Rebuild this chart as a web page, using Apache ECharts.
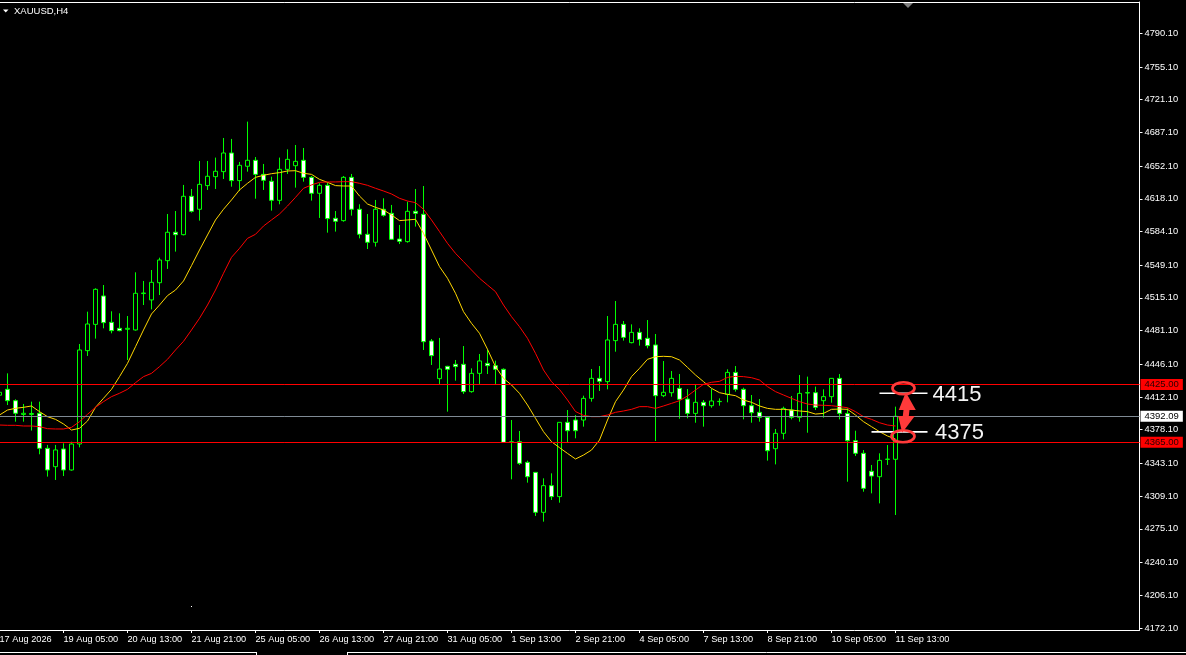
<!DOCTYPE html>
<html><head><meta charset="utf-8">
<script src="https://cdn.jsdelivr.net/npm/echarts@6/dist/echarts.min.js"></script>
<style>html,body{margin:0;padding:0;background:#000;}#c{width:1186px;height:655px;}</style>
</head><body><div id="c"></div>
<script>
// ---- data (XAUUSD H4) ----
const symbolTitle = 'XAUUSD,H4';
const opens = [4414.0,4420.1,4408.3,4394.0,4394.0,4395.2,4358.8,4339.7,4358.1,4336.3,
4363.3,4460.3,4487.6,4517.1,4489.7,4483.5,4482.5,4481.8,4519.6,4513.0,
4530.9,4553.8,4583.3,4580.8,4620.7,4607.2,4631.8,4641.1,4646.3,4665.7,
4637.0,4651.9,4658.1,4643.5,4636.3,4616.5,4648.7,4652.5,4658.1,4640.4,
4623.8,4632.1,4597.8,4595.4,4640.4,4607.2,4581.2,4572.9,4607.2,4603.0,
4576.3,4573.6,4605.1,4602.0,4470.3,4431.2,4444.0,4446.1,4446.1,4417.7,
4436.7,4447.1,4444.7,4440.9,4365.5,4365.7,4344.2,4333.8,4292.3,4320.0,
4308.6,4385.8,4388.2,4388.2,4410.7,4431.5,4428.1,4470.7,4487.6,4468.6,
4479.3,4473.1,4466.2,4413.5,4416.6,4421.1,4410.0,4395.1,4406.6,4403.1,
4407.3,4414.9,4437.7,4420.1,4403.1,4396.2,4391.0,4358.4,4374.4,4398.6,
4391.0,4416.6,4416.6,4408.3,4412.5,4431.5,4395.1,4366.7,4353.6,4334.9,
4329.3,4347.3,4347.4];
const highs = [4420.0,4436.7,4409.7,4404.9,4407.3,4407.3,4362.3,4362.3,4364.0,4365.7,
4467.2,4500.8,4525.1,4528.5,4501.2,4499.1,4496.3,4541.7,4532.7,4544.1,
4556.9,4602.3,4605.4,4632.5,4628.3,4657.4,4657.4,4660.9,4681.3,4680.3,
4656.4,4698.3,4661.5,4654.3,4641.1,4660.9,4669.5,4674.0,4670.9,4641.8,
4634.2,4634.9,4605.4,4641.8,4643.9,4612.4,4602.3,4616.9,4618.6,4611.7,
4590.9,4615.1,4628.3,4631.4,4472.4,4473.5,4444.5,4450.6,4465.1,4441.9,
4456.8,4461.7,4449.9,4441.9,4388.2,4376.8,4346.0,4334.0,4327.6,4332.8,
4386.0,4398.6,4393.4,4413.5,4441.2,4444.3,4496.3,4511.9,4491.1,4487.6,
4483.5,4492.1,4477.6,4449.5,4439.1,4436.0,4420.4,4424.6,4409.0,4420.4,
4410.7,4440.9,4444.3,4421.8,4414.2,4410.0,4391.5,4378.9,4402.1,4413.2,
4435.0,4433.3,4422.9,4420.1,4431.8,4436.0,4400.3,4377.1,4357.0,4341.5,
4353.6,4362.2,4402.1];
const lows = [4410.0,4403.8,4386.5,4386.5,4377.2,4352.6,4329.4,4325.9,4330.0,4335.6,
4359.8,4454.8,4472.8,4483.5,4478.3,4480.4,4450.6,4481.1,4507.7,4503.2,
4518.1,4545.2,4563.2,4580.1,4603.7,4595.4,4627.3,4628.3,4638.7,4630.7,
4626.2,4646.3,4618.2,4627.3,4605.8,4612.4,4643.9,4629.7,4635.9,4616.2,
4598.2,4582.9,4584.0,4594.3,4600.6,4577.0,4565.9,4568.4,4599.5,4575.3,
4571.1,4572.5,4589.2,4461.0,4445.4,4425.7,4396.9,4429.1,4415.3,4416.6,
4425.7,4436.0,4425.7,4364.5,4326.6,4341.5,4323.1,4288.5,4282.6,4305.1,
4302.3,4364.7,4369.2,4381.3,4407.3,4418.4,4420.1,4459.2,4470.7,4467.9,
4465.5,4462.7,4366.4,4412.0,4412.5,4389.6,4390.0,4385.4,4381.3,4401.0,
4403.1,4406.6,4417.7,4388.9,4385.4,4386.5,4346.0,4342.1,4368.1,4388.9,
4386.5,4375.0,4398.6,4390.6,4406.2,4388.9,4324.1,4350.8,4313.7,4312.0,
4301.6,4341.5,4289.5];
const closes = [4417.0,4408.3,4395.2,4395.2,4395.0,4358.8,4336.3,4357.1,4336.3,4363.3,
4461.0,4488.0,4524.0,4489.4,4481.1,4481.1,4483.5,4519.9,4520.2,4531.3,
4554.5,4583.3,4580.8,4620.7,4605.1,4633.1,4641.5,4646.7,4665.7,4637.0,
4652.9,4658.1,4643.5,4637.3,4616.5,4648.7,4659.1,4657.0,4640.4,4623.8,
4632.1,4597.5,4594.7,4640.4,4607.2,4581.2,4572.9,4607.2,4600.9,4576.0,
4573.9,4605.1,4603.0,4469.6,4455.1,4441.2,4440.9,4443.7,4417.7,4436.7,
4449.6,4444.7,4440.9,4365.0,4365.0,4343.2,4329.3,4292.3,4320.0,4308.6,
4385.8,4377.1,4377.1,4410.7,4431.5,4428.4,4471.4,4487.6,4474.1,4479.3,
4472.0,4465.5,4413.5,4417.0,4431.5,4409.7,4395.1,4406.6,4403.1,4408.0,
4407.6,4437.7,4420.1,4403.1,4395.8,4391.0,4356.3,4374.4,4400.3,4391.0,
4415.9,4416.3,4401.4,4412.5,4431.5,4395.1,4366.7,4353.6,4317.2,4330.0,
4346.3,4347.6,4392.1];
const maFast = [4393.4,4398.6,4400.4,4401.4,4402.8,4396.9,4391.7,4388.9,4384.1,4377.8,
4379.6,4387.2,4401.4,4410.8,4420.1,4433.3,4447.1,4464.4,4481.8,4498.4,
4507.7,4517.5,4523.3,4532.7,4548.6,4564.9,4580.5,4596.1,4607.2,4616.9,
4627.3,4634.2,4640.4,4642.5,4644.2,4645.3,4647.0,4647.3,4644.6,4643.5,
4638.3,4635.2,4631.8,4631.4,4631.4,4621.0,4612.7,4609.2,4606.5,4601.3,
4595.4,4596.1,4596.8,4582.2,4564.9,4547.6,4535.5,4519.9,4500.8,4488.7,
4478.3,4461.7,4443.7,4431.5,4424.6,4415.9,4403.8,4390.0,4376.1,4365.7,
4359.5,4353.5,4347.7,4351.8,4357.0,4367.4,4388.2,4407.3,4419.4,4433.3,
4441.9,4451.3,4454.0,4454.4,4454.0,4450.6,4442.9,4435.0,4428.1,4421.1,
4416.6,4414.9,4413.5,4409.0,4406.6,4402.8,4400.3,4399.3,4399.3,4398.6,
4397.6,4396.9,4394.4,4395.1,4399.3,4399.6,4399.3,4393.4,4386.5,4381.3,
4376.1,4371.6,4368.5];
const maSlow = [4383.0,4382.7,4382.7,4382.0,4382.0,4381.3,4379.2,4378.9,4378.9,4380.6,
4386.5,4394.1,4401.4,4407.3,4412.5,4416.0,4420.1,4427.0,4433.3,4436.7,
4443.7,4451.3,4461.0,4470.0,4481.8,4493.9,4507.7,4523.3,4540.7,4557.3,
4566.6,4577.0,4581.2,4589.8,4596.1,4602.3,4610.6,4619.6,4629.0,4632.5,
4635.2,4635.6,4635.6,4635.9,4635.9,4634.2,4632.1,4629.0,4626.2,4623.1,
4618.6,4615.8,4614.1,4607.2,4596.1,4584.0,4571.8,4561.4,4552.8,4544.1,
4535.5,4528.5,4521.6,4507.7,4495.6,4485.2,4473.1,4457.5,4440.2,4428.0,
4420.0,4409.0,4397.0,4393.0,4391.7,4391.7,4393.4,4396.2,4397.6,4399.3,
4402.1,4402.1,4400.3,4402.8,4405.5,4408.3,4413.2,4419.4,4425.3,4427.4,
4428.4,4432.5,4433.6,4433.3,4432.2,4429.8,4422.9,4417.7,4414.2,4410.7,
4407.3,4404.8,4403.8,4403.5,4403.1,4402.1,4401.0,4396.9,4391.7,4388.9,
4385.4,4383.0,4382.0];
const yTicks = [4790.1,4755.1,4721.1,4687.1,4652.1,4618.1,4584.1,4549.1,4515.1,4481.1,
4446.1,4412.1,4378.1,4343.1,4309.1,4275.1,4240.1,4206.1,4172.1];
const xTickLabels = ['17 Aug 2026','19 Aug 05:00','20 Aug 13:00','21 Aug 21:00','25 Aug 05:00',
'26 Aug 13:00','27 Aug 21:00','31 Aug 05:00','1 Sep 13:00','2 Sep 21:00','4 Sep 05:00',
'7 Sep 13:00','8 Sep 21:00','10 Sep 05:00','11 Sep 13:00'];
const barsPerTick = 8;
const redLevels = [4425.00, 4365.00];
const bidPrice = 4392.09;
const annotLevels = [4415, 4375];
const rightShiftBars = 30;

// ---- build ----
const nBars = closes.length;
const categories = [];
for (let i = 0; i < nBars + rightShiftBars; i++) categories.push(String(i));
const labelAt = {};
xTickLabels.forEach((t, k) => { labelAt[k * barsPerTick] = t; });
const ohlc = closes.map((c, i) => [opens[i], c, lows[i], highs[i]]);

const FONT = 'Liberation Sans';
const chart = echarts.init(document.getElementById('c'), null, {renderer: 'canvas'});
const markLabel = (bg, fg) => ({
  show: true, position: 'end', distance: 1,
  formatter: p => Number(p.value).toFixed(2),
  backgroundColor: bg, color: fg, fontFamily: FONT, fontSize: 9.5,
  lineHeight: 10, padding: [1, 4, 0, 4]
});
chart.setOption({
  backgroundColor: '#000',
  animation: false,
  grid: {left: -4.5, right: 46.5, top: 2, bottom: 25, containLabel: false, outerBoundsMode: 'none'},
  xAxis: {
    type: 'category', data: categories, boundaryGap: true,
    axisLine: {show: true, onZero: false, lineStyle: {color: '#fff', width: 1}},
    axisTick: {show: true, alignWithLabel: true, length: 3,
      interval: idx => idx > 0 && labelAt[idx] !== undefined,
      lineStyle: {color: '#fff'}},
    axisLabel: {show: true, interval: idx => labelAt[idx] !== undefined,
      formatter: (v, idx) => labelAt[idx] || '', color: '#fff',
      fontFamily: FONT, fontSize: 9.2, align: 'left', margin: 5},
    splitLine: {show: false}
  },
  yAxis: {
    type: 'value', position: 'right', min: 4170.0, max: 4822.6,
    axisLine: {show: true, onZero: false, lineStyle: {color: '#fff'}},
    axisTick: {show: true, length: 3, customValues: yTicks, lineStyle: {color: '#fff'}},
    axisLabel: {show: true, customValues: yTicks, formatter: v => v.toFixed(2),
      color: '#fff', fontFamily: FONT, fontSize: 9.3, margin: 5},
    splitLine: {show: false}
  },
  series: [
    {type: 'candlestick', data: ohlc, barWidth: 4, z: 2,
     itemStyle: {color: '#000', color0: '#fff', borderColor: '#00ff00',
       borderColor0: '#00ff00', borderColorDoji: '#00ff00', borderWidth: 1}},
    {type: 'line', data: maFast, symbol: 'none', z: 3, silent: true,
     lineStyle: {color: '#ffd700', width: 1}},
    {type: 'line', data: maSlow, symbol: 'none', z: 4, silent: true,
     lineStyle: {color: '#ff0000', width: 1},
     markLine: {silent: true, symbol: ['none', 'none'], animation: false,
       data: [
         {yAxis: redLevels[0], lineStyle: {color: '#ff0000', type: 'solid', width: 1}, label: markLabel('#ff0000', '#2a0000')},
         {yAxis: bidPrice, lineStyle: {color: '#7f8a94', type: 'solid', width: 1}, label: markLabel('#ffffff', '#000000')},
         {yAxis: redLevels[1], lineStyle: {color: '#ff0000', type: 'solid', width: 1}, label: markLabel('#ff0000', '#2a0000')}
       ]}}
  ]
});

// ---- annotations anchored to data coordinates ----
const px = (i, v) => chart.convertToPixel({gridIndex: 0}, [i, v]);
const up = px(110, annotLevels[0]), upEnd = px(116, annotLevels[0]);
const lo = px(109, annotLevels[1]), loEnd = px(116, annotLevels[1]);
const ellX = px(112.5, annotLevels[0])[0];
const arrowAnchor = [px(112.84, annotLevels[0])[0], (up[1] + lo[1]) / 2 - 1.5];
const arrowShape = [[2.3,-19.7],[12.3,-2],[6,-2],[5.3,4],[11.3,4],[-1.3,20.7],[-5.3,4],[-0.7,4],[0,-2],[-4.7,-2]];
const ANN_RED = '#ff3a3a';
chart.setOption({graphic: [
  // title
  {type: 'polygon', shape: {points: [[3, 9.5], [8.5, 9.5], [5.75, 12.5]]}, style: {fill: '#fff'}, silent: true},
  {type: 'text', x: 14, y: 11, style: {text: symbolTitle, fill: '#fff', font: '9.5px ' + FONT, textVerticalAlign: 'middle'}, silent: true},
  // frame top + shift marker
  {type: 'line', shape: {x1: 0, y1: 2.5, x2: 1139.5, y2: 2.5}, style: {stroke: '#fff', lineWidth: 1}, silent: true},
  {type: 'polygon', shape: {points: [[903, 3], [913, 3], [908, 8]]}, style: {fill: '#7f7f7f'}, silent: true},
  // bottom tab strip
  {type: 'line', shape: {x1: 0, y1: 652.5, x2: 257, y2: 652.5}, style: {stroke: '#fff', lineWidth: 1}, silent: true},
  {type: 'line', shape: {x1: 256.5, y1: 652.5, x2: 256.5, y2: 655}, style: {stroke: '#fff', lineWidth: 1}, silent: true},
  {type: 'line', shape: {x1: 347, y1: 652.5, x2: 1186, y2: 652.5}, style: {stroke: '#fff', lineWidth: 1}, silent: true},
  {type: 'line', shape: {x1: 347.5, y1: 652.5, x2: 347.5, y2: 655}, style: {stroke: '#fff', lineWidth: 1}, silent: true},
  {type: 'rect', shape: {x: 191, y: 606, width: 1, height: 1}, style: {fill: '#fff'}, silent: true},
  // level marks
  {type: 'line', shape: {x1: up[0], y1: up[1] - 1, x2: upEnd[0], y2: up[1] - 1}, style: {stroke: '#fff', lineWidth: 1.6}, silent: true, z: 50},
  {type: 'line', shape: {x1: lo[0], y1: lo[1] - 0.8, x2: loEnd[0], y2: lo[1] - 0.8}, style: {stroke: '#fff', lineWidth: 1.8}, silent: true, z: 50},
  {type: 'text', x: upEnd[0] + 5, y: up[1] + 1, style: {text: String(annotLevels[0]), fill: '#f4f4f4', font: '22px ' + FONT, textVerticalAlign: 'middle'}, silent: true, z: 50},
  {type: 'text', x: loEnd[0] + 7.5, y: lo[1] + 0.5, style: {text: String(annotLevels[1]), fill: '#f4f4f4', font: '22px ' + FONT, textVerticalAlign: 'middle'}, silent: true, z: 50},
  {type: 'ellipse', shape: {cx: ellX, cy: up[1] - 6, rx: 11, ry: 6}, style: {fill: 'none', stroke: ANN_RED, lineWidth: 2.7}, silent: true, z: 51},
  {type: 'ellipse', shape: {cx: ellX - 0.5, cy: lo[1] + 3.5, rx: 11.5, ry: 6}, style: {fill: 'none', stroke: ANN_RED, lineWidth: 2.7}, silent: true, z: 51},
  {type: 'polygon', shape: {points: arrowShape.map(p => [arrowAnchor[0] + p[0], arrowAnchor[1] + p[1]])}, style: {fill: ANN_RED}, silent: true, z: 52}
]});
</script>
</body></html>
